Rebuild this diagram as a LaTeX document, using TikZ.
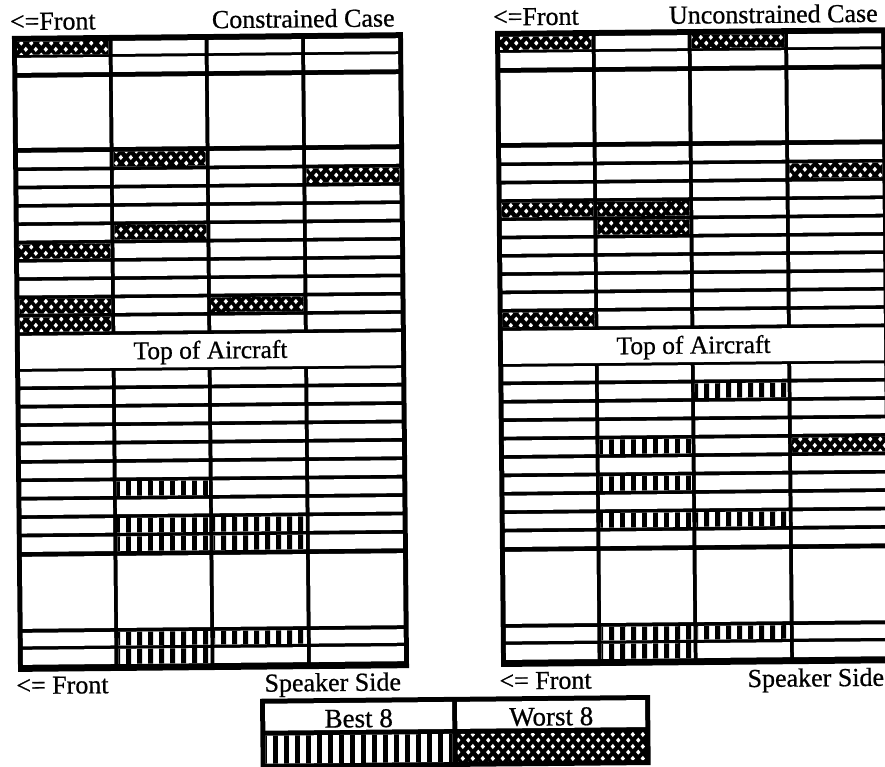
\documentclass[tikz,border=0pt]{standalone}
\usepackage{fontspec}
\setmainfont{Liberation Serif}[FakeBold=0.7]
\usetikzlibrary{patterns.meta}

\tikzdeclarepattern{
  name=worstpat, type=uncolored,
  bottom left={(0pt,0pt)}, top right={(9.5pt,12pt)},
  tile size={(9.5pt,12pt)},
  code={
    \fill (0.1pt,3pt) -- (2.4pt,0.3pt) -- (4.7pt,3pt) -- (2.4pt,5.7pt) -- cycle;
    \fill (4.85pt,9pt) -- (7.15pt,6.3pt) -- (9.45pt,9pt) -- (7.15pt,11.7pt) -- cycle;
  }
}
\tikzdeclarepattern{
  name=bestpat, type=uncolored,
  bottom left={(0pt,0pt)}, top right={(10.5pt,400pt)},
  tile size={(10.5pt,400pt)},
  code={\fill (0pt,0pt) rectangle (5.2pt,400pt);}
}

\tikzset{
  lbl/.style={font=\fontsize{26}{30}\selectfont, inner sep=0pt, transform shape},
  toalbl/.style={font=\fontsize{25.5}{30}\selectfont, inner sep=0pt, transform shape},
  leglbl/.style={font=\fontsize{27}{31}\selectfont, inner sep=0pt, transform shape},
  worstfill/.style={pattern=worstpat, pattern color=white},
  bestfill/.style={pattern=bestpat, pattern color=black},
}

\newcommand\colxy[1]{\edef\xa{\ifcase#1\or5\or100.5\or196.5\or293\fi}\edef\xb{\ifcase#1\or96.5\or192.5\or289\or386\fi}}
\newcommand\rAt[1]{117+18.3*(#1-1)}
\newcommand\rAb[1]{131.5+18.3*(#1-1)}
\newcommand\rBt[1]{336+18.4*(#1-1)}
\newcommand\rBb[1]{350.5+18.4*(#1-1)}
\newcommand\wc[3]{\colxy{#1}\fill[black] (\xa,{#2}) rectangle (\xb,{#3});\fill[worstfill] (\xa,{#2}) rectangle (\xb,{#3});}
\newcommand\bc[3]{\colxy{#1}\fill[white] (\xa,{#2}) rectangle (\xb,{#3});\fill[bestfill] (\xa,{#2}) rectangle (\xb,{#3});}
\newcommand\gridbase{%
  \fill[black] (0,0) rectangle (391,636);
  \foreach \c in {1,...,4}{
    \colxy\c
    \fill[white] (\xa,6) rectangle (\xb,19);
    \fill[white] (\xa,22) rectangle (\xb,37);
    \fill[white] (\xa,42) rectangle (\xb,112);
    \foreach \i in {1,...,10}{
      \fill[white] (\xa,{\rAt{\i}}) rectangle (\xb,{\rAb{\i}});
      \fill[white] (\xa,{\rBt{\i}}) rectangle (\xb,{\rBb{\i}});
    }
    \fill[white] (\xa,521) rectangle (\xb,593);
    \fill[white] (\xa,597) rectangle (\xb,610.5);
    \fill[white] (\xa,614) rectangle (\xb,629);
  }
  \fill[white] (5,300) rectangle (386,333);
}

\begin{document}
\begin{tikzpicture}[x=1pt,y=-1pt]
\fill[white] (0,0) rectangle (885,766);
\useasboundingbox (0,0) rectangle (885,766);
\begin{scope}[rotate around={0.55:(442.5,383)}]

% ---------- Constrained case ----------
\begin{scope}[shift={(15.3,31.8)}]
  \gridbase
  \wc{1}{6}{19}
  \wc{2}{\rAt{1}}{\rAb{1}}
  \wc{4}{\rAt{2}}{\rAb{2}}
  \wc{2}{\rAt{5}}{\rAb{5}}
  \wc{1}{\rAt{6}}{\rAb{6}}
  \wc{1}{\rAt{9}}{\rAb{9}}
  \wc{3}{\rAt{9}}{\rAb{9}}
  \wc{1}{\rAt{10}}{\rAb{10}}
  \bc{2}{\rBt{7}}{\rBb{7}}
  \bc{2}{\rBt{9}}{\rBb{9}}
  \bc{3}{\rBt{9}}{\rBb{9}}
  \bc{2}{\rBt{10}}{\rBb{10}}
  \bc{3}{\rBt{10}}{\rBb{10}}
  \bc{2}{597}{610.5}
  \bc{3}{597}{610.5}
  \bc{2}{614}{629}
  \node[toalbl, anchor=base] (toaL) at (195.5,324.5) {Top of Aircraft};
\end{scope}

% ---------- Unconstrained case ----------
\begin{scope}[shift={(498.4,31.5)}]
  \gridbase
  \wc{1}{6}{19}
  \wc{3}{6}{19}
  \wc{4}{\rAt{2}}{\rAb{2}}
  \wc{1}{\rAt{4}}{\rAb{4}}
  \wc{2}{\rAt{4}}{\rAb{4}}
  \wc{2}{\rAt{5}}{\rAb{5}}
  \wc{1}{\rAt{10}}{\rAb{10}}
  \wc{4}{\rBt{5}}{\rBb{5}}
  \bc{3}{\rBt{2}}{\rBb{2}}
  \bc{2}{\rBt{5}}{\rBb{5}}
  \bc{2}{\rBt{7}}{\rBb{7}}
  \bc{2}{\rBt{9}}{\rBb{9}}
  \bc{3}{\rBt{9}}{\rBb{9}}
  \bc{2}{597}{610.5}
  \bc{3}{597}{610.5}
  \bc{2}{614}{629}
  \node[toalbl, anchor=base] (toaR) at (195.5,324.5) {Top of Aircraft};
\end{scope}

% ---------- labels ----------
\node[lbl, anchor=base west] (frontTL) at (13.3,26) {<=Front};
\node[lbl, anchor=base east] (titleL) at (398.3,26) {Constrained Case};
\node[lbl, anchor=base west] (frontTR) at (496.4,26) {<=Front};
\node[lbl, anchor=base east] (titleR) at (881.4,26) {Unconstrained Case};
\node[lbl, anchor=base west] (frontBL) at (13.3,690) {<= Front};
\node[lbl, anchor=base east] (spkL) at (398.3,690) {Speaker Side};
\node[lbl, anchor=base west] (frontBR) at (496.4,690) {<= Front};
\node[lbl, anchor=base east] (spkR) at (881.4,690) {Speaker Side};

% ---------- legend ----------
\fill[black] (257,697) rectangle (647,767);
\fill[white] (262,702) rectangle (449,729);
\fill[white] (454,702) rectangle (642,729);
\fill[white] (262,734) rectangle (449,762);
\fill[bestfill] (262,734) rectangle (449,762);
\fill[worstfill] (454,734) rectangle (642,762);
\node[leglbl, anchor=base] (best) at (355.5,726.5) {Best 8};
\node[leglbl, anchor=base] (worst) at (548,726.5) {Worst 8};
\end{scope}
\end{tikzpicture}
\end{document}
